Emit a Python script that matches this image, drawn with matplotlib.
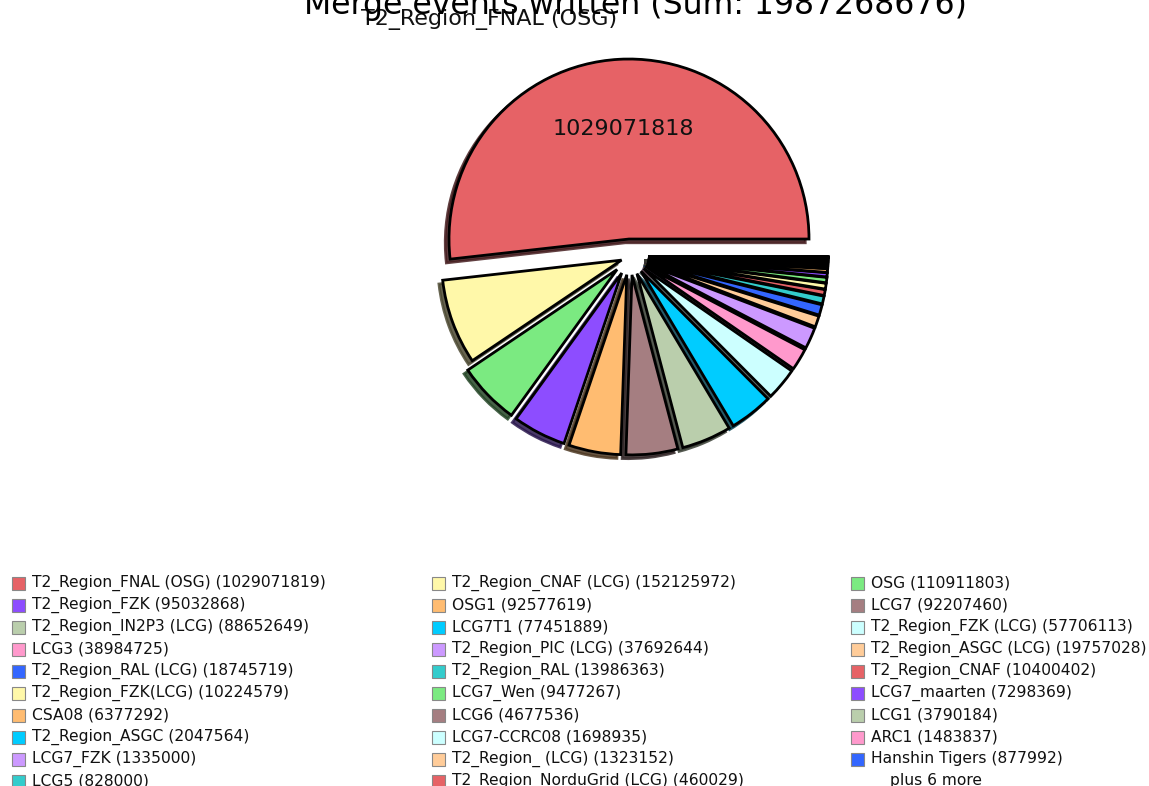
import matplotlib
matplotlib.use("Agg")
import matplotlib.pyplot as plt
from matplotlib.patches import Rectangle

plt.rcParams['font.family'] = ['DejaVu Sans']

title = "Merge events written (Sum: 1987268676)"

sites = [
    "T2_Region_FNAL (OSG)", "T2_Region_CNAF (LCG)", "OSG",
    "T2_Region_FZK", "OSG1", "LCG7",
    "T2_Region_IN2P3 (LCG)", "LCG7T1", "T2_Region_FZK (LCG)",
    "LCG3", "T2_Region_PIC (LCG)", "T2_Region_ASGC (LCG)",
    "T2_Region_RAL (LCG)", "T2_Region_RAL", "T2_Region_CNAF",
    "T2_Region_FZK(LCG)", "LCG7_Wen", "LCG7_maarten",
    "CSA08", "LCG6", "LCG1",
    "T2_Region_ASGC", "LCG7-CCRC08", "ARC1",
    "LCG7_FZK", "T2_Region_ (LCG)", "Hanshin Tigers",
    "LCG5", "T2_Region_NorduGrid (LCG)",
]
events = [
    1029071819, 152125972, 110911803,
    95032868, 92577619, 92207460,
    88652649, 77451889, 57706113,
    38984725, 37692644, 19757028,
    18745719, 13986363, 10400402,
    10224579, 9477267, 7298369,
    6377292, 4677536, 3790184,
    2047564, 1698935, 1483837,
    1335000, 1323152, 877992,
    828000, 460029,
]
# six further (unlisted) sites, "plus 6 more" -- remainder of the sum
hidden_events = [25000, 14000, 10000, 7867, 4500, 2500]
more_label = "plus 6 more"

palette = ['#e66266', '#fff8a9', '#7bea81', '#8d4dff', '#ffbc71', '#a57e81',
           '#baceac', '#00ccff', '#ccffff', '#ff99cc', '#cc99ff', '#ffcc99',
           '#3366ff', '#33cccc']

values = events + hidden_events
total = sum(values)
colors = [palette[i % len(palette)] for i in range(len(values))]

fig = plt.figure(figsize=(11.49, 7.86), dpi=100)
W, H = 1149, 786

# pie axes: centre ~ (630, 257) px, radius ~180 px
L = 1.4
rpx = 180
cx, cy = 630, 257
side = 2 * L * rpx
ax = fig.add_axes([(cx - side / 2) / W, 1 - (cy + side / 2) / H, side / W, side / H])

labels = [sites[0]] + [''] * (len(values) - 1)


def pct(p):
    v = p * total / 100.0
    if v < total / 2.0:
        return ""
    # value of the largest slice, recomputed from its percentage (truncated)
    big = max(values)
    return "%d" % ((big / total * 100.0) * total / 100.0 - 1e-7)


explode = [0.1] * len(values)
explode[1] = 0.05
wedges, texts, autotexts = ax.pie(
    values, labels=labels, colors=colors, explode=explode,
    autopct=pct, pctdistance=0.61, labeldistance=1.22,
    startangle=0, counterclock=True,
    shadow={'ox': -0.015, 'oy': -0.015, 'alpha': 0.85},
    wedgeprops=dict(edgecolor='black', linewidth=2.0),
    textprops=dict(fontsize=16, color='#111111'))
ax.set_xlim(-L, L)
ax.set_ylim(-L, L)
ax.set_aspect('equal')
ax.axis('off')

fig.text(0.5535, 1 - 14 / H, title, ha='center', va='baseline', fontsize=22.7)

# legend: three columns, row-major order
entries = [f"{s} ({v})" for s, v in zip(sites, events)]
col_x = [12, 432, 851]
row_y0 = 583
row_dy = 22
box = 13
for i, txt in enumerate(entries + [more_label]):
    r, c = divmod(i, 3)
    yc = row_y0 + r * row_dy
    if i < len(entries):
        fig.patches.append(Rectangle(((col_x[c]) / W, 1 - (yc + box / 2) / H), box / W, box / H,
                                     transform=fig.transFigure, facecolor=colors[i],
                                     edgecolor='#888888', linewidth=0.8))
        fig.text((col_x[c] + 20) / W, 1 - yc / H, txt, ha='left', va='center',
                 fontsize=11.2, color='#111111')
    else:
        fig.text((col_x[c] + 39) / W, 1 - yc / H, txt, ha='left', va='center',
                 fontsize=11.2, color='#111111')

fig.savefig("out.png", dpi=100)
